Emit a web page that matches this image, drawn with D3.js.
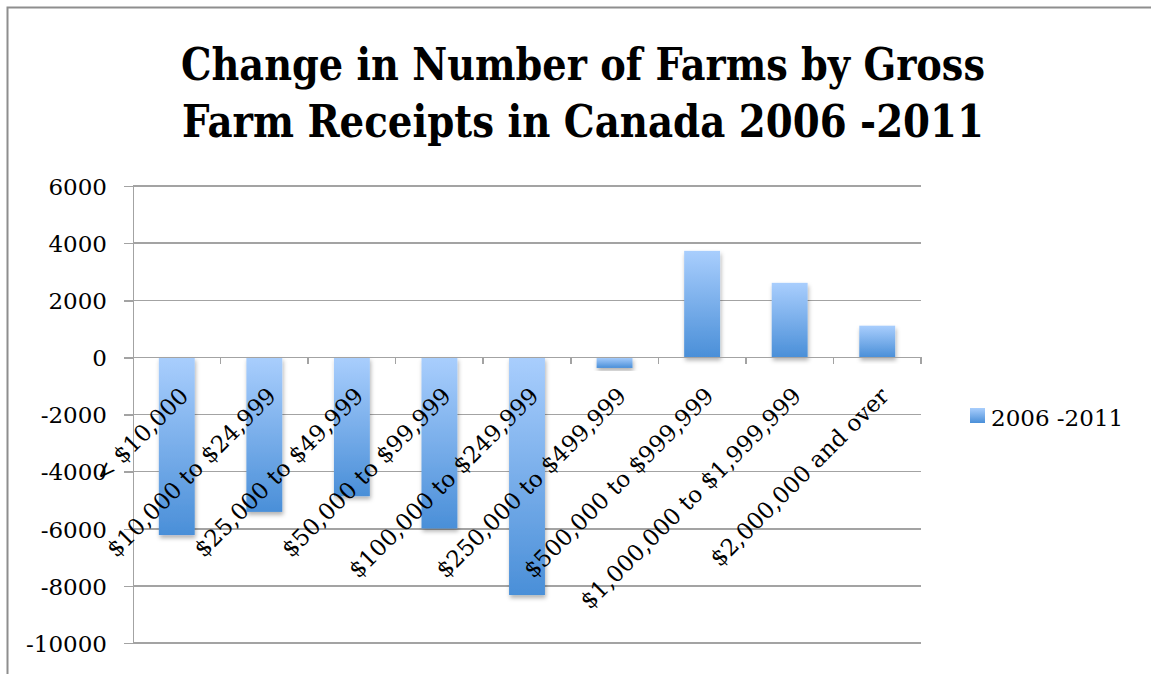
<!DOCTYPE html>
<meta charset="utf-8">
<style>
  body { margin: 0; background: #fff; }
  svg text { font-family: "DejaVu Serif", serif; fill: #000; }
  .title { font-weight: bold; }
  .grid line { stroke: #a3a3a3; stroke-width: 1.5; shape-rendering: crispEdges; }
  .axis path, .axis line { stroke: #a3a3a3; stroke-width: 1.5; fill: none; shape-rendering: crispEdges; }
</style>
<div id="chart"></div>
<script src="https://cdn.jsdelivr.net/npm/d3@7"></script>
<script>
    var categories = ["< $10,000", "$10,000 to $24,999", "$25,000 to $49,999", "$50,000 to $99,999",
        "$100,000 to $249,999", "$250,000 to $499,999", "$500,000 to $999,999",
        "$1,000,000 to $1,999,999", "$2,000,000 and over"];
    var values = [-6220, -5410, -4860, -5990, -8320, -370, 3730, 2610, 1110];
    var yTicks = [6000, 4000, 2000, 0, -2000, -4000, -6000, -8000, -10000];
    var seriesName = "2006 -2011";
    var titleLines = ["Change in Number of Farms by Gross", "Farm Receipts in Canada 2006 -2011"];

    var W = 1151, H = 674,
        plot = {left: 133, right: 921, top: 186, bottom: 643};

    var svg = d3.select("#chart").append("svg")
        .attr("width", W)
        .attr("height", H);

    var defs = svg.append("defs");
    var grad = defs.append("linearGradient")
        .attr("id", "barGrad")
        .attr("x1", 0).attr("y1", 0).attr("x2", 0).attr("y2", 1);
    grad.append("stop").attr("offset", "0%").attr("stop-color", "#a9cefd");
    grad.append("stop").attr("offset", "100%").attr("stop-color", "#4a8fd8");

    var shadow = defs.append("filter").attr("id", "shadow")
        .attr("x", "-20%").attr("y", "-20%").attr("width", "140%").attr("height", "140%");
    shadow.append("feDropShadow")
        .attr("dx", 1).attr("dy", 3).attr("stdDeviation", 2)
        .attr("flood-color", "#000").attr("flood-opacity", 0.3);

    // frame
    svg.append("path")
        .attr("d", "M7.5," + H + "V7.5H" + W)
        .attr("fill", "none")
        .attr("stroke", "#8e8e8e")
        .attr("stroke-width", 2);

    // title
    svg.selectAll(".title")
        .data(titleLines)
        .enter().append("text")
        .attr("class", "title")
        .attr("x", 583)
        .attr("y", (d, i) => 80 + i * 57)
        .attr("text-anchor", "middle")
        .attr("font-size", 44)
        .attr("textLength", (d, i) => i == 0 ? 804 : 802)
        .attr("lengthAdjust", "spacingAndGlyphs")
        .text((d) => d);

    var x = d3.scaleBand()
        .domain(categories)
        .range([plot.left, plot.right])
        .paddingInner(0.59)
        .paddingOuter(0.295);

    var y = d3.scaleLinear()
        .domain([-10000, 6000])
        .range([plot.bottom, plot.top]);

    // gridlines
    svg.append("g")
        .attr("class", "grid")
        .selectAll("line")
        .data(yTicks)
        .enter().append("line")
        .attr("x1", plot.left)
        .attr("x2", plot.right)
        .attr("y1", (d) => y(d))
        .attr("y2", (d) => y(d));

    // y axis
    svg.append("g")
        .attr("class", "axis")
        .attr("transform", "translate(" + plot.left + ",0)")
        .call(d3.axisLeft(y).tickValues(yTicks).tickSizeInner(9).tickSizeOuter(0).tickPadding(17)
            .tickFormat((d) => String(d)))
        .selectAll("text")
        .attr("font-size", 23)
        .attr("font-family", "DejaVu Serif")
        .attr("dy", "0.36em");

    // bars
    svg.selectAll(".bar")
        .data(values)
        .enter().append("rect")
        .attr("class", "bar")
        .attr("x", (d, i) => x(categories[i]))
        .attr("width", x.bandwidth())
        .attr("y", (d) => y(Math.max(0, d)))
        .attr("height", (d) => Math.abs(y(d) - y(0)))
        .attr("fill", "url(#barGrad)")
        .attr("filter", "url(#shadow)");

    // category axis at zero, ticks at band boundaries
    var step = x.step();
    var bounds = d3.range(categories.length + 1).map((i) => plot.left + i * step);
    var xAxisG = svg.append("g").attr("class", "axis");
    xAxisG.append("line")
        .attr("x1", plot.left).attr("x2", plot.right)
        .attr("y1", y(0)).attr("y2", y(0));
    xAxisG.selectAll(".tick")
        .data(bounds.slice(1))
        .enter().append("line")
        .attr("x1", (d) => d).attr("x2", (d) => d)
        .attr("y1", y(0)).attr("y2", y(0) + 7);

    svg.selectAll(".xlabel")
        .data(categories)
        .enter().append("text")
        .attr("class", "xlabel")
        .attr("font-size", 23)
        .attr("text-anchor", "end")
        .attr("transform", (d) => "translate(" + (x(d) + x.bandwidth() / 2 + 13) + "," + (y(0) + 40) + ") rotate(-45)")
        .text((d) => d);

    // legend
    var legend = svg.append("g").attr("transform", "translate(970,408)");
    legend.append("rect")
        .attr("width", 15).attr("height", 15)
        .attr("fill", "url(#barGrad)");
    legend.append("text")
        .attr("x", 21)
        .attr("y", 18)
        .attr("font-size", 23)
        .text(seriesName);
</script>
